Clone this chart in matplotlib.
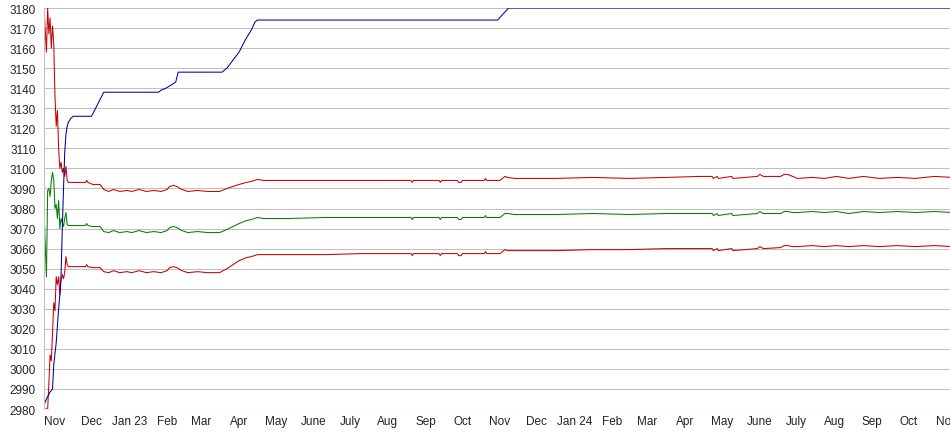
import numpy as np
import pandas as pd
import matplotlib
matplotlib.use("Agg")
import matplotlib.pyplot as plt

# days counted from the first sample (2022-10-23)
start = np.datetime64("2022-10-23")

blue_days = [0, 2, 5, 7, 8, 10, 12, 13, 14, 15, 16, 17, 18, 19, 20, 22, 24, 39, 44, 49,
             94, 96, 100, 104, 108, 110, 146, 150, 155, 160, 165, 170, 173, 175,
             372, 375, 378, 381, 745]
blue_vals = [2982, 2985, 2988.5, 2990, 3002, 3013, 3030, 3037, 3047, 3070, 3090, 3108, 3117, 3121, 3123, 3125, 3126, 3126, 3132, 3138,
             3138, 3139, 3140, 3141.5, 3143, 3148, 3148, 3150, 3154, 3158, 3164, 3169, 3173, 3174,
             3174, 3176, 3178, 3180, 3180]

# shared sample days for the three band lines after they settle
band_days = [20, 34, 35, 36, 40, 46, 49, 53, 57, 62, 68, 72, 78, 84, 90, 96, 101, 103, 106, 109,
             113, 118, 126, 134, 140, 144, 150, 155, 160, 166, 170, 175, 180, 200, 230, 260,
             290, 301, 302, 303, 324, 325, 326, 339, 340, 342, 343, 361, 362, 363, 374, 378,
             380, 386, 420, 450, 480, 510, 538, 548, 549, 552, 553, 564, 565, 585, 587, 590,
             604, 607, 610, 614, 618, 630, 640, 650, 660, 672, 685, 700, 715, 730, 745]

top_early_days = [0, 1, 2, 3, 4, 5, 6, 7, 8, 9, 10, 11, 12, 13, 14, 15, 16, 17, 18, 19]
top_early_vals = [3180, 3169, 3158, 3180, 3167, 3175, 3160, 3171, 3162, 3136,
                  3121, 3129, 3110, 3100, 3103, 3098, 3100, 3096, 3101, 3094]
top_vals = [3093, 3093, 3094, 3093, 3092, 3092, 3089.5, 3088.5, 3089.5, 3088.5, 3089, 3088.5, 3089.5, 3088.5, 3089, 3088.5, 3089.5, 3091, 3091.5, 3091,
            3089.5, 3088.5, 3089, 3088.5, 3088.5, 3088.5, 3090, 3091, 3092, 3093, 3093.5, 3094.5, 3094, 3094, 3094, 3094,
            3094, 3094, 3093, 3094, 3094, 3093, 3094, 3094, 3093, 3093, 3094, 3094, 3095, 3094, 3094, 3096,
            3095.5, 3095, 3095, 3095.5, 3095, 3095.5, 3096, 3096, 3095, 3096, 3095, 3096, 3095, 3096, 3097, 3096,
            3096, 3097, 3097, 3096, 3095, 3095.5, 3095, 3096, 3095, 3096, 3095, 3095.5, 3095, 3096, 3095.5]

green_early_days = [0, 1, 2, 3, 4, 5, 6, 7, 8, 9, 10, 11, 12, 13, 14, 15, 16, 17, 18, 19]
green_early_vals = [3079, 3062, 3046, 3089, 3090, 3086, 3094, 3098, 3094, 3080,
                    3082, 3075, 3084, 3070, 3075, 3073, 3071, 3075, 3078, 3072]
green_vals = [3071.5, 3071.5, 3072.5, 3071.5, 3071, 3071, 3068.5, 3068, 3069, 3068, 3068.5, 3068, 3069, 3068, 3068.5, 3068, 3069, 3070.5, 3071, 3070.5,
              3069, 3068, 3068.5, 3068, 3068, 3068, 3069.5, 3071, 3072.5, 3074, 3074.5, 3075.5, 3075, 3075, 3075.5, 3075.5,
              3075.5, 3075.5, 3074.5, 3075.5, 3075.5, 3074.5, 3075.5, 3075.5, 3074.5, 3074.5, 3075.5, 3075.5, 3076.5, 3075.5, 3075.5, 3077.5,
              3077.5, 3077, 3077, 3077.5, 3077, 3077.5, 3077.5, 3077.5, 3076.5, 3077.5, 3076.5, 3077.5, 3076.5, 3077.5, 3078.5, 3077.5,
              3077.5, 3078.5, 3078.5, 3078, 3078, 3078.5, 3078, 3078.5, 3077.5, 3078.5, 3078, 3078.5, 3078, 3078.5, 3078]

low_early_days = [0, 3, 4, 5, 6, 7, 8, 9, 10, 11, 12, 13, 14, 15, 16, 17, 18, 19]
low_early_vals = [2980, 2980, 2993, 3007, 3004, 3018, 3033, 3029, 3046, 3042,
                  3046, 3037, 3044, 3047, 3045, 3048, 3056, 3052]
low_vals = [3051, 3051, 3052, 3051, 3050.5, 3050.5, 3048.5, 3048, 3049, 3048, 3048.5, 3048, 3049, 3048, 3048.5, 3048, 3049, 3050.5, 3051, 3050.5,
            3049, 3048, 3048.5, 3048, 3048, 3048, 3050, 3052, 3054, 3055.5, 3056, 3057, 3057, 3057, 3057, 3057.5,
            3057.5, 3057.5, 3056.5, 3057.5, 3057.5, 3056.5, 3057.5, 3057.5, 3056.5, 3056.5, 3057.5, 3057.5, 3058.5, 3057.5, 3057.5, 3059.5,
            3059, 3059, 3059, 3059.5, 3059.5, 3060, 3060, 3060, 3059, 3060, 3059, 3060, 3059, 3060, 3061, 3060,
            3060.5, 3061.5, 3061.5, 3061, 3061, 3061.5, 3061, 3061.5, 3061, 3061.5, 3061, 3061.5, 3061, 3061.5, 3061]

tick_labels = ["Nov", "Dec", "Jan 23", "Feb", "Mar", "Apr", "May", "June", "July", "Aug", "Sep", "Oct",
               "Nov", "Dec", "Jan 24", "Feb", "Mar", "Apr", "May", "June", "July", "Aug", "Sep", "Oct", "Nov"]


def to_dates(days):
    return start + np.array(days, dtype="timedelta64[D]")


fig = plt.figure(figsize=(9.5, 4.35), dpi=100)
ax = fig.add_axes([44 / 950, 25 / 435, 906 / 950, 401 / 435])

grid_c = "#c0c0c0"
ax.set_axisbelow(True)
ax.grid(True, axis="y", color=grid_c, linewidth=0.75)

lw = 0.75
ax.plot(to_dates(green_early_days + band_days), green_early_vals + green_vals,
        color="#008000", lw=lw)
ax.plot(to_dates(low_early_days + band_days), low_early_vals + low_vals,
        color="#c80000", lw=lw)
ax.plot(to_dates(top_early_days + band_days), top_early_vals + top_vals,
        color="#c80000", lw=lw)
ax.plot(to_dates(blue_days), blue_vals, color="#0000a0", lw=lw)

ax.set_ylim(2980, 3180)
ax.set_yticks(np.arange(2980, 3181, 10))
ax.set_xlim(start, start + np.timedelta64(743, "D"))

months = pd.date_range("2022-11-01", periods=len(tick_labels), freq="MS")
ax.set_xticks(months)
ax.set_xticklabels(tick_labels)

for s in ["top", "right", "bottom"]:
    ax.spines[s].set_visible(False)
ax.spines["left"].set_color(grid_c)
ax.spines["left"].set_linewidth(0.75)
ax.tick_params(length=0, labelsize=8.5, labelcolor="#222222")
ax.tick_params(axis="y", pad=6)
ax.tick_params(axis="x", pad=4)
for t in ax.get_xticklabels() + ax.get_yticklabels():
    t.set_family("Liberation Sans")

fig.savefig("out.png", dpi=100)
